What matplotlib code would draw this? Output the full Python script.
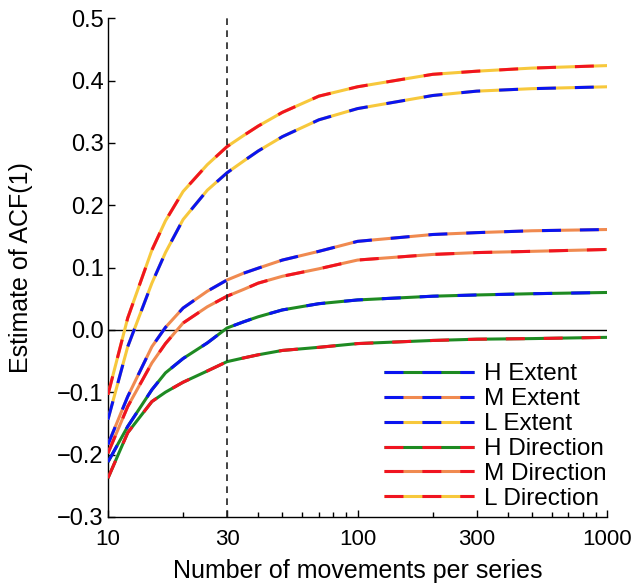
import numpy as np
import matplotlib
matplotlib.use('Agg')
import matplotlib.pyplot as plt
from matplotlib.ticker import FixedLocator, FuncFormatter, NullFormatter
from matplotlib.legend_handler import HandlerTuple

plt.rcParams['font.family'] = ['Liberation Sans', 'DejaVu Sans']

# number of movements per series
n = [10, 12, 15, 17, 20, 25, 30, 35, 40, 50, 70, 100, 200, 300, 500, 1000]

# estimated ACF(1)
h_extent = [-0.212, -0.155, -0.096, -0.069, -0.046, -0.021, 0.003, 0.013, 0.021, 0.032, 0.042, 0.048,
            0.054, 0.056, 0.058, 0.060]
m_extent = [-0.184, -0.107, -0.027, 0.004, 0.035, 0.062, 0.080, 0.091, 0.099, 0.112, 0.126, 0.142,
            0.153, 0.156, 0.159, 0.161]
l_extent = [-0.144, -0.027, 0.075, 0.124, 0.177, 0.224, 0.252, 0.271, 0.287, 0.310, 0.337, 0.355,
            0.376, 0.383, 0.387, 0.390]
h_direction = [-0.238, -0.165, -0.115, -0.100, -0.084, -0.066, -0.051, -0.045, -0.040, -0.033, -0.028, -0.022,
               -0.017, -0.015, -0.014, -0.012]
m_direction = [-0.198, -0.123, -0.053, -0.022, 0.011, 0.037, 0.054, 0.065, 0.075, 0.086, 0.098, 0.112,
               0.121, 0.124, 0.126, 0.129]
l_direction = [-0.104, 0.019, 0.128, 0.175, 0.222, 0.265, 0.294, 0.312, 0.327, 0.349, 0.375, 0.390,
               0.410, 0.415, 0.420, 0.424]

labels = ['H Extent', 'M Extent', 'L Extent', 'H Direction', 'M Direction', 'L Direction']

blue = '#0a14f0'
red = '#f01420'
green = '#1e8a22'
orange = '#f08a50'
yellow = '#f7c83c'

series = [
    (h_extent, blue, green),
    (m_extent, blue, orange),
    (l_extent, blue, yellow),
    (h_direction, red, green),
    (m_direction, red, orange),
    (l_direction, red, yellow),
]

fig = plt.figure(figsize=(6.35, 5.88), dpi=100)
ax = fig.add_axes([0.170, 0.121, 0.786, 0.848])

ax.axhline(0, color='k', lw=1.0, zorder=1)
ax.axvline(30, color='#222222', lw=1.2, dashes=(4, 3.2), zorder=5)

lw = 2.2
handles = []
for vals, dash_col, base_col in series:
    base, = ax.plot(n, vals, color=base_col, lw=lw, solid_capstyle='butt', zorder=3)
    dash, = ax.plot(n, vals, color=dash_col, lw=lw, dashes=(6.2, 6.2), zorder=4)
    handles.append((base, dash))

ax.set_xscale('log')
ax.set_xlim(10, 1000)
ax.set_ylim(-0.3, 0.5)

ax.xaxis.set_major_locator(FixedLocator([10, 30, 100, 300, 1000]))
ax.xaxis.set_major_formatter(FuncFormatter(lambda v, p: f'{v:g}'))
ax.xaxis.set_minor_locator(FixedLocator([20, 40, 50, 60, 70, 80, 90, 200, 400, 500, 600, 700, 800, 900]))
ax.xaxis.set_minor_formatter(NullFormatter())

yt = [-0.3, -0.2, -0.1, 0.0, 0.1, 0.2, 0.3, 0.4, 0.5]
ax.yaxis.set_major_locator(FixedLocator(yt))
ax.yaxis.set_major_formatter(FuncFormatter(lambda v, p: f'{round(v, 1):.1f}'.replace('-', '\u2212')))

ax.tick_params(which='both', direction='in', top=False, right=False)
ax.tick_params(axis='x', labelsize=16, pad=8.5)
ax.tick_params(axis='y', labelsize=17, pad=3)
ax.tick_params(which='major', length=5, width=1)
ax.tick_params(which='minor', length=3.5, width=1)

for s in ['top', 'right']:
    ax.spines[s].set_visible(False)
for s in ['left', 'bottom']:
    ax.spines[s].set_linewidth(1.0)

ax.set_xlabel('Number of movements per series', fontsize=18, labelpad=7)
ax.set_ylabel('Estimate of ACF(1)', fontsize=18)
ax.yaxis.set_label_coords(-0.15, 0.5)

ax.legend(handles, labels, handler_map={tuple: HandlerTuple(ndivide=1)},
          loc='lower right', bbox_to_anchor=(1.0, 0.014), frameon=False,
          fontsize=17.5, handlelength=3.74, handletextpad=0.41,
          labelspacing=0.12, borderaxespad=0.0, borderpad=0.0)

fig.savefig('out.png', dpi=100)
